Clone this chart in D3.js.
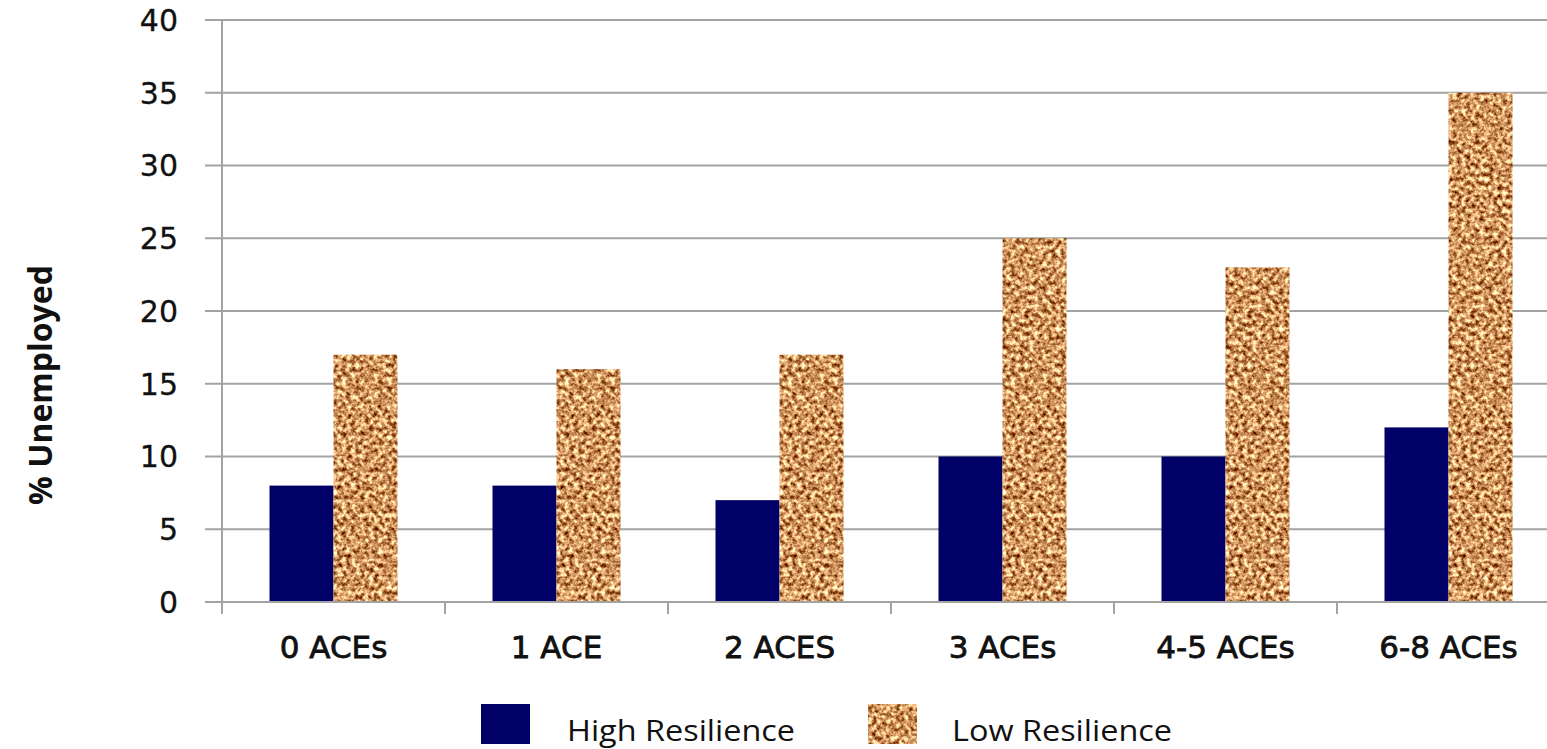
<!DOCTYPE html>
<html>
<head>
<meta charset="utf-8">
<script src="https://cdn.jsdelivr.net/npm/d3@7"></script>
<style>
  html, body { margin: 0; padding: 0; background: #fff; overflow: hidden; }
  svg { display: block; }
</style>
</head>
<body>
<svg id="chart" width="1547" height="749"></svg>
<script>
// ACEs vs unemployment, split by resilience level.

const categories = ["0 ACEs", "1 ACE", "2 ACES", "3 ACEs", "4-5 ACEs", "6-8 ACEs"];
const series = ["High Resilience", "Low Resilience"];
const highResilience = [8, 8, 7, 10, 10, 12];
const lowResilience = [17, 16, 17, 25, 23, 35];
const yTicks = [0, 5, 10, 15, 20, 25, 30, 35, 40];

const W = 1547, H = 749;
const LEFT = 222, RIGHT = 1560, TOP = 20, BOTTOM = 602;
const GRID = "#a3a3a3";
const NAVY = "#000066";
const TICK_FONT = "30px 'DejaVu Sans', Verdana, sans-serif";

const svg = d3.select("#chart");

// cork-ish texture for the low resilience bars
const defs = svg.append("defs");
const cork = defs.append("filter").attr("id", "cork")
  .attr("x", 0).attr("y", 0).attr("width", 1).attr("height", 1)
  .attr("color-interpolation-filters", "sRGB");
cork.append("feTurbulence").attr("type", "fractalNoise")
  .attr("baseFrequency", 0.22).attr("numOctaves", 3).attr("seed", 7).attr("result", "noise");
cork.append("feColorMatrix").attr("in", "noise").attr("type", "matrix")
  .attr("values", [
    "1.5 0 0 0 0.07",
    "1.7 0 0 0 -0.26",
    "1.6 0 0 0 -0.42",
    "0 0 0 0 1"].join(" "))
  .attr("result", "tint");
cork.append("feComposite").attr("in", "tint").attr("in2", "SourceGraphic").attr("operator", "in");

const rows = categories.map((c, i) => ({
  cat: c, values: [highResilience[i], lowResilience[i]],
}));

const x = d3.scaleBand().domain(categories).range([LEFT, RIGHT])
  .paddingInner(0.426).paddingOuter(0.213);
const x1 = d3.scaleBand().domain(series).range([0, x.bandwidth()]);
const y = d3.scaleLinear().domain([0, 40]).range([BOTTOM, TOP]);

// gridlines + y tick marks (they stick out left of the axis)
svg.append("g").selectAll("line").data(yTicks).enter().append("line")
  .attr("x1", 205).attr("x2", W)
  .attr("y1", (d) => y(d)).attr("y2", (d) => y(d))
  .attr("stroke", GRID).attr("stroke-width", 2);

svg.append("g").selectAll("text").data(yTicks).enter().append("text")
  .attr("x", 178).attr("y", (d) => y(d)).attr("dy", "0.36em")
  .attr("text-anchor", "end")
  .style("font", TICK_FONT).style("fill", "#111")
  .style("stroke", "#111").style("stroke-width", 0.3)
  .text((d) => d);

// bars
const groups = svg.append("g").selectAll("g").data(rows).enter().append("g")
  .attr("transform", (d) => `translate(${x(d.cat)},0)`);
groups.selectAll("rect").data((d) => d.values.map((v, i) => ({ s: series[i], v })))
  .enter().append("rect")
  .attr("x", (d) => x1(d.s))
  .attr("y", (d) => y(d.v))
  .attr("width", x1.bandwidth())
  .attr("height", (d) => y(0) - y(d.v))
  .attr("fill", (d) => d.s === series[0] ? NAVY : "#c98a55")
  .attr("filter", (d) => d.s === series[0] ? null : "url(#cork)");

// axes
svg.append("line").attr("x1", LEFT).attr("x2", LEFT).attr("y1", TOP).attr("y2", 614)
  .attr("stroke", GRID).attr("stroke-width", 2);
svg.append("line").attr("x1", 205).attr("x2", W).attr("y1", BOTTOM).attr("y2", BOTTOM)
  .attr("stroke", GRID).attr("stroke-width", 2);
const step = x.step();
svg.append("g").selectAll("line").data(d3.range(1, categories.length + 1)).enter().append("line")
  .attr("x1", (i) => LEFT + i * step).attr("x2", (i) => LEFT + i * step)
  .attr("y1", BOTTOM).attr("y2", 614)
  .attr("stroke", GRID).attr("stroke-width", 2);

svg.append("g").selectAll("text").data(categories).enter().append("text")
  .attr("x", (d) => x(d) + x.bandwidth() / 2).attr("y", 658)
  .attr("text-anchor", "middle")
  .style("font", "31px 'DejaVu Sans', Verdana, sans-serif").style("fill", "#111")
  .style("stroke", "#111").style("stroke-width", 0.8)
  .text((d) => d);

// y title
svg.append("text")
  .attr("transform", "translate(52,385) rotate(-90)")
  .attr("text-anchor", "middle")
  .style("font", "bold 32px 'Open Sans', sans-serif").style("fill", "#111")
  .text("% Unemployed");

// legend
const legend = [
  { label: series[0], box: 481, text: 567 },
  { label: series[1], box: 868, text: 952 },
];
const lg = svg.append("g").selectAll("g").data(legend).enter().append("g");
lg.append("rect")
  .attr("x", (d) => d.box).attr("y", 704).attr("width", 49).attr("height", 40)
  .attr("fill", (d, i) => i === 0 ? NAVY : "#c98a55")
  .attr("filter", (d, i) => i === 0 ? null : "url(#cork)");
lg.append("text")
  .attr("x", (d) => d.text).attr("y", 741)
  .style("font", "30px 'Open Sans', sans-serif").style("fill", "#111")
  .attr("textLength", (d, i) => i === 0 ? 228 : 220)
  .attr("lengthAdjust", "spacingAndGlyphs")
  .text((d) => d.label);
</script>
</body>
</html>
